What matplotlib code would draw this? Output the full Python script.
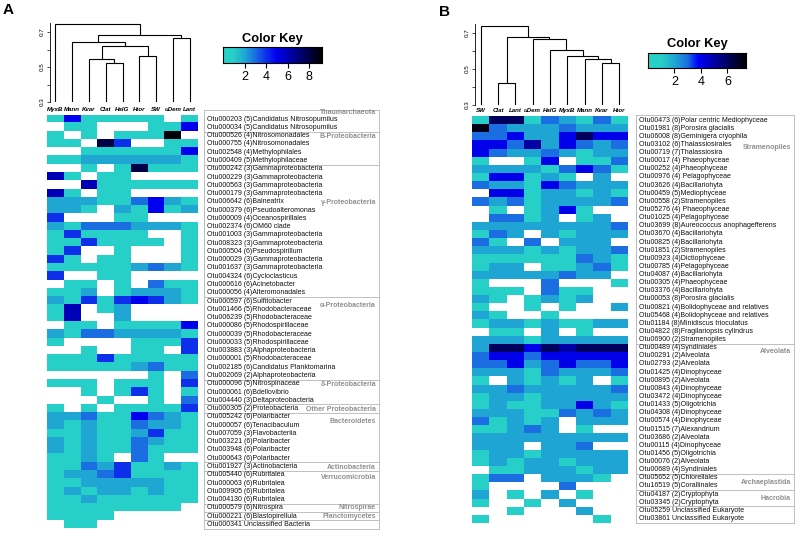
import numpy as np
import matplotlib.pyplot as plt
from matplotlib.colors import LinearSegmentedColormap

plt.rcParams['font.family'] = ['Liberation Sans', 'DejaVu Sans']

W, H = 798, 547

# ---------------- panel A data (bacteria) ----------------
cols_a = ["MyxB", "Mann", "Kvar", "Clat", "HalG", "Htor", "SW", "uDem", "Lant"]
# tree over leaf order above: (left, right, height)
tree_a = (0, ((1, ((2, (3, 4, 0.521), 0.546), (5, 6, 0.565), 0.62), 0.641),
              (7, 8, 0.665), 0.68), 0.746)
otus_a = [
    "Otu000203 (5)Candidatus Nitrosopumilus", "Otu000034 (5)Candidatus Nitrosopumilus",
    "Otu000526 (4)Nitrosomonadales", "Otu000755 (4)Nitrosomonadales",
    "Otu002548 (4)Methylophilales", "Otu000409 (5)Methylophilaceae",
    "Otu000242 (3)Gammaproteobacteria", "Otu000229 (3)Gammaproteobacteria",
    "Otu000563 (3)Gammaproteobacteria", "Otu000179 (3)Gammaproteobacteria",
    "Otu006642 (6)Balneatrix", "Otu000379 (6)Pseudoalteromonas",
    "Otu000009 (4)Oceanospirillales", "Otu002374 (6)OM60 clade",
    "Otu001003 (3)Gammaproteobacteria", "Otu008323 (3)Gammaproteobacteria",
    "Otu000504 (6)Pseudospirillum", "Otu000029 (3)Gammaproteobacteria",
    "Otu001637 (3)Gammaproteobacteria", "Otu004324 (6)Cycloclasticus",
    "Otu000616 (6)Acinetobacter", "Otu000056 (4)Alteromonadales",
    "Otu000597 (6)Sulfitobacter", "Otu001466 (5)Rhodobacteraceae",
    "Otu006239 (5)Rhodobacteraceae", "Otu000086 (5)Rhodospirillaceae",
    "Otu000039 (5)Rhodobacteraceae", "Otu000033 (5)Rhodospirillaceae",
    "Otu003883 (3)Alphaproteobacteria", "Otu000001 (5)Rhodobacteraceae",
    "Otu002185 (6)Candidatus Planktomarina", "Otu002069 (2)Alphaproteobacteria",
    "Otu000096 (5)Nitrospinaceae", "Otu000061 (6)Bdellovibrio",
    "Otu004440 (3)Deltaproteobacteria", "Otu000305 (2)Proteobacteria",
    "Otu005242 (6)Polaribacter", "Otu000057 (6)Tenacibaculum",
    "Otu007059 (3)Flavobacteriia", "Otu003221 (6)Polaribacter",
    "Otu003948 (6)Polaribacter", "Otu000643 (6)Polaribacter",
    "Otu001927 (3)Actinobacteria", "Otu005440 (6)Rubritalea",
    "Otu000063 (6)Rubritalea", "Otu009905 (6)Rubritalea",
    "Otu004130 (6)Rubritalea", "Otu000579 (6)Nitrospira",
    "Otu000221 (6)Blastopirellula", "Otu000341 Unclassified Bacteria",
]
# one string per row, one digit per column ('.' = absent)
cells_a = [
    "1511111.1", ".11...115", "1.1.1119.", "11.84..11", "..1111115",
    "112222221", "..1.18111", "61.11....", "..6111111", "61.11....",
    "222113521", "221.21512", "4...11...", "213332221", "141111..1",
    "1141111.1", "14..1...1", "41.11...1", "111112321", "4..11....",
    ".11.1.311", "112.12221", "214145421", "16.12....", "16..2....",
    ".11.11115", "213322221", "1....1114", "..1..11.4", "111411111",
    "111112311", "......1.3", "111.111.4", "..1.141.1", "...1..1.3",
    "1.1.11114", "223115321", "212113221", "112112411", "212113211",
    "212113111", "1121.31..", "113241121", "122341111", "112222211",
    "121221211", "112111111", "11111111.", "1111.....", ".11......",
]
groups_a = ["Thaumarchaeota", "B-Proteobacteria", "γ-Proteobacteria",
            "α-Proteobacteria", "δ-Proteobacteria", "Other Proteobacteria",
            "Bacteroidetes", "Actinobacteria", "Verrucomicrobia",
            "Nitrospirae", "Planctomycetes"]
group_ends_a = [2, 6, 22, 32, 35, 36, 42, 43, 47, 48, 49]

# ---------------- panel B data (eukaryotes) ----------------
cols_b = ["SW", "Clat", "Lant", "uDem", "HalG", "MyxB", "Mann", "Kvar", "Htor"]
tree_b = (0, ((1, 2, 0.42),
              (3, (4, (5, (6, (7, 8, 0.535), 0.557), 0.572), 0.605), 0.665), 0.68), 0.74)
otus_b = [
    "Otu00473 (6)Polar centric Mediophyceae", "Otu01981 (8)Porosira glacialis",
    "Otu06008 (8)Geminigera cryophila", "Otu03102 (6)Thalassiosirales",
    "Otu00719 (7)Thalassiosira", "Otu00017 (4) Phaeophyceae",
    "Otu00252 (4)Phaeophyceae", "Otu00976 (4) Pelagophyceae",
    "Otu03626 (4)Bacillariohyta", "Otu00459 (5)Mediophyceae",
    "Otu00558 (2)Stramenopiles", "Otu05276 (4) Phaeophyceae",
    "Otu01025 (4)Pelagophyceae", "Otu03699 (8)Aureococcus anophagefferens",
    "Otu03670 (4)Bacillariohyta", "Otu00825 (4)Bacillariohyta",
    "Otu01851 (2)Stramenopiles", "Otu00923 (4)Dictiophyceae",
    "Otu00785 (4)Pelagophyceae", "Otu04087 (4)Bacillariohyta",
    "Otu00305 (4)Phaeophyceae", "Otu03376 (4)Bacillariohyta",
    "Otu00053 (8)Porosira glacialis", "Otu00821 (4)Bolidophyceae and relatives",
    "Otu05468 (4)Bolidophyceae and relatives", "Otu01184 (8)Minidiscus trioculatus",
    "Otu04822 (8)Fragilariopsis cylindrus", "Otu06900 (2)Stramenopiles",
    "Otu00489 (4)Syndiniales", "Otu00291 (2)Alveolata",
    "Otu02793 (2)Alveolata", "Otu01425 (4)Dinophyceae",
    "Otu00895 (2)Alveolata", "Otu00843 (4)Dinophyceae",
    "Otu03472 (4)Dinophyceae", "Otu01433 (5)Oligotrichia",
    "Otu04308 (4)Dinophyceae", "Otu00574 (4)Dinophyceae",
    "Otu01515 (7)Alexandrium", "Otu03686 (2)Alveolata",
    "Otu00115 (4)Dinophyceae", "Otu01456 (5)Oligotrichia",
    "Otu00076 (2)Alveolata", "Otu00689 (4)Syndiniales",
    "Otu05652 (5)Chlorellales", "Otu16519 (5)Corallinales",
    "Otu04187 (2)Cryptophyta", "Otu03345 (2)Cryptophyta",
    "Otu05259 Unclassified Eukaryote", "Otu03861 Unclassified Eukaryote",
]
cells_b = [
    "166132131", "732223222", "334224644", "443524323", "432232122",
    "1..14.113", "222213431", "144121.2.", "322143222", ".44122121",
    "323122223", ".1.1241..", ".3312.12.", "222222223", "132.21222",
    "31.3.222.", "222121223", "111111321", "122.11231", "22222322.",
    "1...3...1", "111.311..", "21.1212..", "1..1.1..2", "21..1....",
    "122121122", ".11.2.1..", "222122222", "266465666", "344344444",
    "334234334", "222132223", "1.21212.1", "223222223", "122122222",
    "121122421", "222113232", "31212.222", "11232.1..", "222222222",
    "222.223..", "122122222", "121221222", ".11222122", "133.2221.",
    "1....3...", "2.1.2.1..", "1..1.2...", "..1...2..", "1......1.",
]
groups_b = ["Stramenopiles", "Alveolata", "Archaeplastida", "Hacrobia"]
group_ends_b = [28, 44, 46, 48]

TURQ = "#28d3c5"
cmap_a = LinearSegmentedColormap.from_list("key_a", [
    (0.0, TURQ), (1 / 9.2, "#26cfc8"), (2 / 9.2, "#1fa6d4"), (3 / 9.2, "#1a6ee2"),
    (4 / 9.2, "#0f30ea"), (5 / 9.2, "#0000f0"), (1.0, "#000000")])
cmap_b = LinearSegmentedColormap.from_list("key_b", [
    (0.0, TURQ), (1 / 7.4, "#26cfc8"), (2 / 7.4, "#1fa6d4"), (3 / 7.4, "#1a6ee2"),
    (3.8 / 7.4, "#0000f8"), (1.0, "#000000")])
for cm in (cmap_a, cmap_b):
    cm.set_bad("white")


def px_axes(fig, x0, y0, x1, y1):
    return fig.add_axes([x0 / W, 1 - y1 / H, (x1 - x0) / W, (y1 - y0) / H])


def ftext(fig, x, y, s, **kw):
    fig.text(x / W, 1 - y / H, s, **kw)


def to_matrix(rows):
    return np.array([[np.nan if c == "." else float(c) for c in r] for r in rows])


def draw_tree(ax, node):
    if isinstance(node, int):
        return node + 0.5, 0.3
    left, right, h = node
    xl, hl = draw_tree(ax, left)
    xr, hr = draw_tree(ax, right)
    ax.plot([xl, xl, xr, xr], [hl, h, h, hr], color="black", lw=0.8,
            solid_joinstyle="miter")
    return (xl + xr) / 2, h


def panel(fig, hx0, hx1, top, row_h, dendro_x, dendro_base, dendro_scale,
          box, cols, tree, otus, cells, groups, group_ends, group_y,
          cmap, vmax, key, key_ticks):
    n = len(otus)
    bottom = top + n * row_h
    col_w = (hx1 - hx0) / len(cols)

    # dendrogram
    ytop = 0.76
    dax = px_axes(fig, dendro_x, dendro_base - (ytop - 0.3) * dendro_scale,
                  hx1, dendro_base)
    draw_tree(dax, tree)
    dax.set_xlim((dendro_x - hx0) / col_w, len(cols))
    dax.set_ylim(0.3, ytop)
    for s in ("top", "right", "bottom"):
        dax.spines[s].set_visible(False)
    dax.spines["left"].set_bounds(0.3, 0.75)
    dax.spines["left"].set_linewidth(0.6)
    dax.set_xticks([])
    dax.set_yticks([0.3, 0.4, 0.5, 0.6, 0.7])
    dax.set_yticklabels(["0.3", "", "0.5", "", "0.7"], rotation=90, va="center")
    dax.tick_params(axis="y", labelsize=4.5, length=2, width=0.5, pad=1.5)
    dax.patch.set_alpha(0)

    # heatmap
    hax = px_axes(fig, hx0, top, hx1, bottom)
    hax.imshow(np.ma.masked_invalid(to_matrix(cells)), cmap=cmap, vmin=0, vmax=vmax,
               aspect="auto", interpolation="nearest",
               extent=(0, len(cols), n, 0))
    hax.set_axis_off()
    for i, c in enumerate(cols):
        hax.text(i + 0.5, -0.65, c, ha="center", va="center", fontsize=4.4,
                 fontweight="bold", fontstyle="italic", clip_on=False)

    # label box
    bx0, bx1, btop = box
    lax = px_axes(fig, bx0, btop, bx1, bottom)
    top_row = -(top - btop) / row_h
    lax.set_ylim(n, top_row)
    lax.set_xlim(0, 1)
    lax.set_xticks([])
    lax.set_yticks([])
    for s in lax.spines.values():
        s.set_color("#b5b5b5")
        s.set_linewidth(0.6)
    for i, lab in enumerate(otus):
        lax.text(3 / (bx1 - bx0), i + 0.5, lab, ha="left", va="center",
                 fontsize=5, color="#111111")
    for e in group_ends:
        lax.axhline(e, color="#b5b5b5", lw=0.6)
    for g, gy in zip(groups, group_y):
        lax.text(1 - 3 / (bx1 - bx0), gy, g, ha="right", va="center",
                 fontsize=5, fontweight="bold", color="#8f8f8f")

    # colour key
    kx0, ky0, kx1, ky1 = key
    kax = px_axes(fig, kx0, ky0, kx1, ky1)
    grad = np.linspace(0, vmax, 256)[None, :]
    kax.imshow(grad, cmap=cmap, vmin=0, vmax=vmax, aspect="auto",
               extent=(0, vmax, 0, 1))
    kax.set_yticks([])
    kax.set_xticks(key_ticks)
    kax.tick_params(axis="x", labelsize=9, length=3.5, width=0.8, pad=2.5)
    for s in kax.spines.values():
        s.set_linewidth(0.8)
    ftext(fig, (kx0 + kx1) / 2, ky0 - 8.5, "Color Key", ha="center", va="center",
          fontsize=9.3, fontweight="bold")


fig = plt.figure(figsize=(W / 100, H / 100), dpi=100)

panel(fig, 47, 198, 115, 8.27, 50, 102, 175, (204, 379, 109.5),
      cols_a, tree_a, otus_a, cells_a, groups_a, group_ends_a,
      [-0.25, 2.62, 10.6, 23.0, 32.6, 35.6, 37.1, 42.65, 43.8, 47.5, 48.5],
      cmap_a, 9.2, (223, 47, 322, 63), [2, 4, 6, 8])

panel(fig, 472, 628, 116, 8.13, 475, 105, 180, (636, 794, 115),
      cols_b, tree_b, otus_b, cells_b, groups_b, group_ends_b,
      [3.9, 29.0, 45.1, 47.1],
      cmap_b, 7.4, (648, 53, 746, 68), [2, 4, 6])

ftext(fig, 3, 3, "A", ha="left", va="top", fontsize=11, fontweight="bold")
ftext(fig, 439, 5, "B", ha="left", va="top", fontsize=11, fontweight="bold")

fig.savefig("out.png", dpi=100)
